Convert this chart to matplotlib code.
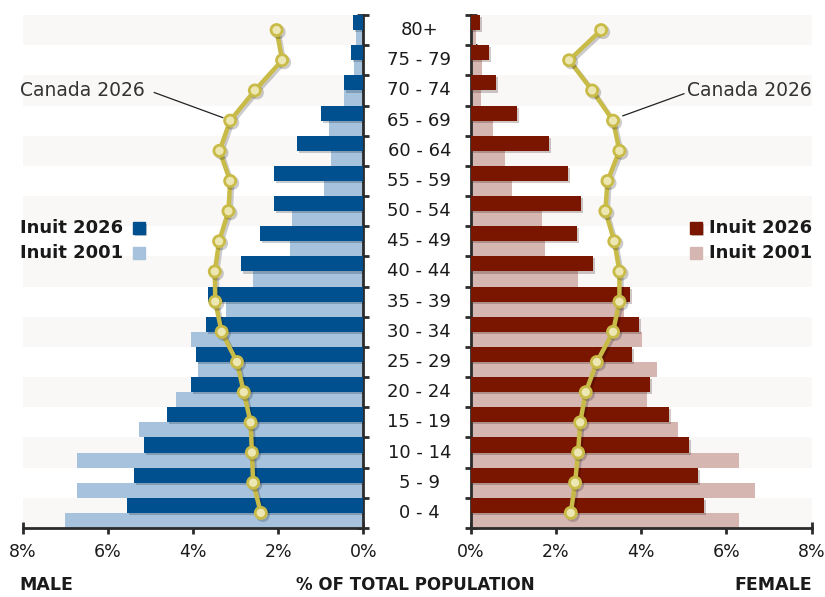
import numpy as np
import matplotlib
matplotlib.use("Agg")
import matplotlib.pyplot as plt
import matplotlib.patheffects as pe

plt.rcParams['font.family'] = ['DejaVu Sans']

ages = ["0 - 4", "5 - 9", "10 - 14", "15 - 19", "20 - 24", "25 - 29", "30 - 34",
        "35 - 39", "40 - 44", "45 - 49", "50 - 54", "55 - 59", "60 - 64",
        "65 - 69", "70 - 74", "75 - 79", "80+"]

male_2026 = [5.55, 5.39, 5.16, 4.62, 4.05, 3.93, 3.70, 3.65, 2.88, 2.43, 2.10,
             2.10, 1.57, 1.00, 0.46, 0.29, 0.24]
male_2001 = [7.00, 6.72, 6.72, 5.27, 4.40, 3.88, 4.05, 3.23, 2.60, 1.73, 1.68,
             0.93, 0.76, 0.81, 0.45, 0.22, 0.18]
male_canada = [2.41, 2.59, 2.62, 2.65, 2.81, 2.97, 3.33, 3.48, 3.49, 3.39, 3.17,
               3.13, 3.38, 3.13, 2.55, 1.91, 2.04]

female_2026 = [5.47, 5.33, 5.12, 4.65, 4.21, 3.79, 3.95, 3.74, 2.87, 2.50, 2.59,
               2.28, 1.84, 1.09, 0.59, 0.43, 0.22]
female_2001 = [6.29, 6.67, 6.29, 4.86, 4.14, 4.37, 4.02, 3.60, 2.52, 1.74, 1.67,
               0.97, 0.80, 0.52, 0.24, 0.26, 0.12]
female_canada = [2.35, 2.45, 2.52, 2.57, 2.70, 2.96, 3.34, 3.49, 3.49, 3.37, 3.16,
                 3.21, 3.49, 3.34, 2.85, 2.31, 3.06]

m_dark, m_light = "#00508f", "#a6c2dc"
f_dark, f_light = "#7a1500", "#d6b6b1"
line_c, marker_face = "#c9bb48", "#ede7b4"
band_c = "#f9f8f6"
axis_c = "#2b2b2b"
txt_c = "#1a1a1a"

fig = plt.figure(figsize=(8.25, 5.97), dpi=100)
ax_l = fig.add_axes([0.0275, 0.1156, 0.4131, 0.8593])
ax_r = fig.add_axes([0.5705, 0.1156, 0.4133, 0.8593])

y = np.arange(len(ages))
h = 0.5
shadow = [pe.SimplePatchShadow(offset=(1.5, -1.5), alpha=0.22), pe.Normal()]
lshadow = [pe.SimpleLineShadow(offset=(1.5, -1.5), alpha=0.2), pe.Normal()]

for ax, v26, v01, can, dark, light in [
        (ax_l, male_2026, male_2001, male_canada, m_dark, m_light),
        (ax_r, female_2026, female_2001, female_canada, f_dark, f_light)]:
    for i in y:
        if i % 2 == 0:
            ax.axhspan(i - 0.5, i + 0.5, color=band_c, lw=0, zorder=0)
    ax.barh(y - 0.25, v01, height=h, color=light, zorder=2)
    bars = ax.barh(y + 0.25, v26, height=h, color=dark, zorder=3)
    for b in bars:
        b.set_path_effects(shadow)
    ax.plot(can, y, color=line_c, lw=3.2, marker='o', ms=8, mfc=marker_face,
            mec=line_c, mew=2, zorder=5, path_effects=lshadow)
    ax.set_xlim(0, 8)
    ax.set_ylim(-0.5, len(ages) - 0.5)
    ax.set_xticks([0, 2, 4, 6, 8])
    ax.set_xticklabels(["0%", "2%", "4%", "6%", "8%"])
    ax.set_yticks(np.arange(len(ages) + 1) - 0.5)
    ax.set_yticklabels([])
    for s in ['top', 'right', 'left']:
        ax.spines[s].set_visible(False)
    ax.spines['bottom'].set_color(axis_c)
    ax.spines['bottom'].set_linewidth(2)
    ax.tick_params(axis='x', direction='inout', length=8, width=2, color=axis_c,
                   labelsize=12.5, pad=7, labelcolor=txt_c)
    ax.tick_params(axis='y', direction='inout', length=8, width=2, color=axis_c)

ax_l.invert_xaxis()
ax_l.spines['right'].set_visible(True)
ax_l.spines['right'].set_color(axis_c)
ax_l.spines['right'].set_linewidth(2)
ax_l.yaxis.tick_right()
ax_r.spines['left'].set_visible(True)
ax_r.spines['left'].set_color(axis_c)
ax_r.spines['left'].set_linewidth(2)

# age labels in the middle, placed on the rows of the left axes
for i, a in enumerate(ages):
    ax_l.text(-1.31, i, a, ha='center', va='center', fontsize=13, color=txt_c,
              clip_on=False)

# legends
fig.text(0.024, 0.618, "Inuit 2026", fontsize=13, fontweight='bold', va='center', color=txt_c)
fig.text(0.024, 0.576, "Inuit 2001", fontsize=13, fontweight='bold', va='center', color=txt_c)
fig.patches.append(plt.Rectangle((0.161, 0.608), 0.0145, 0.02, transform=fig.transFigure,
                                 color=m_dark, path_effects=shadow))
fig.patches.append(plt.Rectangle((0.161, 0.566), 0.0145, 0.02, transform=fig.transFigure,
                                 color=m_light))
fig.text(0.984, 0.618, "Inuit 2026", fontsize=13, fontweight='bold', va='center', ha='right',
         color=txt_c)
fig.text(0.984, 0.576, "Inuit 2001", fontsize=13, fontweight='bold', va='center', ha='right',
         color=txt_c)
fig.patches.append(plt.Rectangle((0.836, 0.608), 0.0145, 0.02, transform=fig.transFigure,
                                 color=f_dark, path_effects=shadow))
fig.patches.append(plt.Rectangle((0.836, 0.566), 0.0145, 0.02, transform=fig.transFigure,
                                 color=f_light))

# Canada annotations
fig.text(0.024, 0.849, "Canada 2026", fontsize=13.5, va='center', color='#333333')
fig.add_artist(plt.Line2D([0.187, 0.27], [0.845, 0.803], color='#222222', lw=0.9))
fig.text(0.984, 0.849, "Canada 2026", fontsize=13.5, va='center', ha='right', color='#333333')
fig.add_artist(plt.Line2D([0.829, 0.755], [0.843, 0.806], color='#222222', lw=0.9))

# bottom labels
fig.text(0.024, 0.02, "MALE", fontsize=12.5, fontweight='bold', va='center', color=txt_c)
fig.text(0.503, 0.02, "% OF TOTAL POPULATION", fontsize=12, fontweight='bold',
         va='center', ha='center', color=txt_c)
fig.text(0.984, 0.02, "FEMALE", fontsize=12.5, fontweight='bold', va='center', ha='right',
         color=txt_c)

fig.savefig("out.png", dpi=100)
